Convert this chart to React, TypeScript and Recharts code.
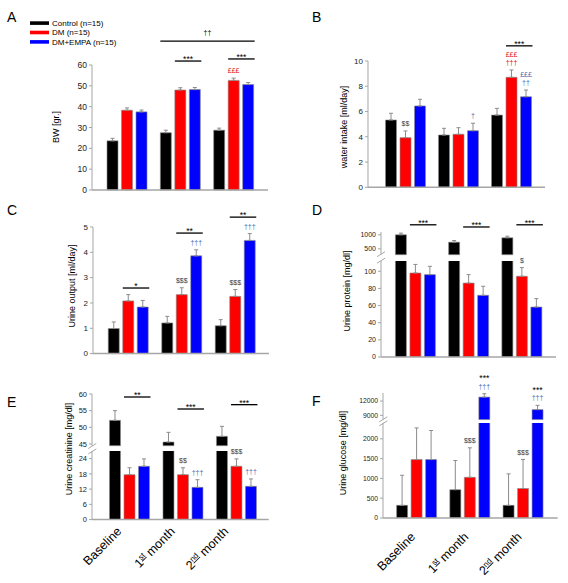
import React from 'react';
import { Bar, BarChart, ErrorBar, LabelList, XAxis, YAxis } from 'recharts';

const FONT = '"Liberation Sans", Arial, sans-serif';
const AXIS = '#a6a6a6';
const OUTLINE = '#8c8c8c';
const RED_TXT = '#e0161b';
const BLUE_TXT = '#4a6cb0';
const GREY_TXT = '#404040';

const GROUPS = ['Baseline', '1st month', '2nd month'];
const SERIES = ['ctrl', 'dm', 'empa'];
const SERIES_NAMES = ['Control (n=15)', 'DM (n=15)', 'DM+EMPA (n=15)'];
const SERIES_COLORS = ['#000000', '#ff0000', '#0000ff'];

const BAR = 11;
const BAR_GAP = 3.5;
const BAR_STEP = BAR + BAR_GAP;

// A: body weight [gr.]
const BW_CTRL = [23.6, 27.5, 28.7];
const BW_CTRL_ERR = [1.2, 1.2, 1.0];
const BW_DM = [38.3, 48.0, 52.6];
const BW_DM_ERR = [1.1, 1.1, 1.1];
const BW_EMPA = [37.5, 48.2, 50.6];
const BW_EMPA_ERR = [0.9, 1.0, 1.0];
const BW_TICKS = [0, 10, 20, 30, 40, 50, 60];

// B: water intake [ml/day]
const WI_CTRL = [5.33, 4.14, 5.72];
const WI_CTRL_ERR = [0.53, 0.53, 0.53];
const WI_DM = [3.93, 4.2, 8.71];
const WI_DM_ERR = [0.53, 0.52, 0.58];
const WI_EMPA = [6.44, 4.48, 7.17];
const WI_EMPA_ERR = [0.53, 0.59, 0.53];
const WI_TICKS = [0, 2, 4, 6, 8, 10];

// C: urine output [ml/day]
const UO_CTRL = [0.99, 1.21, 1.1];
const UO_CTRL_ERR = [0.26, 0.26, 0.24];
const UO_DM = [2.08, 2.33, 2.26];
const UO_DM_ERR = [0.25, 0.27, 0.27];
const UO_EMPA = [1.84, 3.86, 4.47];
const UO_EMPA_ERR = [0.26, 0.24, 0.27];
const UO_TICKS = [0, 1, 2, 3, 4, 5];

// D: urine protein [mg/dl]
const UP_CTRL = [1000, 736, 893];
const UP_CTRL_ERR = [60, 60, 57];
const UP_DM = [98, 86.3, 94.2];
const UP_DM_ERR = [10, 9.8, 10.1];
const UP_EMPA = [96.1, 72, 58.3];
const UP_EMPA_ERR = [9.7, 10.5, 9.8];
const UP_TICKS_HIGH = [500, 1000];
const UP_TICKS_LOW = [0, 20, 40, 60, 80, 100];

// E: urine creatinine [mg/dl]
const UC_CTRL = [52.1, 45.6, 47.3];
const UC_CTRL_ERR = [2.9, 2.9, 3.0];
const UC_DM = [17.7, 17.7, 21.0];
const UC_DM_ERR = [2.7, 2.7, 2.9];
const UC_EMPA = [21.0, 12.7, 13.1];
const UC_EMPA_ERR = [2.9, 3.0, 2.9];
const UC_TICKS_HIGH = [45, 50, 55, 60];
const UC_TICKS_LOW = [0, 6, 12, 18, 24];

// F: urine glucose [mg/dl]
const UG_CTRL = [320, 716, 320];
const UG_CTRL_ERR = [760, 735, 795];
const UG_DM = [1476, 1028, 745];
const UG_DM_ERR = [800, 745, 735];
const UG_EMPA = [1476, 12840, 10200];
const UG_EMPA_ERR = [735, 700, 900];
const UG_TICKS_HIGH = [9000, 12000];
const UG_TICKS_LOW = [0, 500, 1000, 1500, 2000];

type Sym = { kind: 'sym'; seg: number; g: number; s: number; lines: [string, string][] };
type Sig = { kind: 'sig'; seg: number; g: number; s0: number; g2: number; s1: number; v: number; text: string; lift?: number };
type Mark = Sym | Sig;
type Seg = { top: number; bottom: number; domain: [number, number]; ticks: number[] };
type Panel = {
  letter: string;
  letterPos: [number, number];
  title: string;
  titlePos: [number, number];
  values: number[][];
  errs: number[][];
  x0: number;
  x1: number;
  padL: number;
  padR: number;
  tickFont: number;
  segs: Seg[];
  marks: Mark[];
  xLabels?: { offX: number; offY: number };
};

const PANELS: Panel[] = [
  {
    letter: 'A', letterPos: [7, 22], title: 'BW [gr.]', titlePos: [56, 127],
    values: [BW_CTRL, BW_DM, BW_EMPA], errs: [BW_CTRL_ERR, BW_DM_ERR, BW_EMPA_ERR],
    x0: 92, x1: 268, padL: 8, padR: 8, tickFont: 8.5,
    segs: [{ top: 65, bottom: 190, domain: [0, 60], ticks: BW_TICKS }],
    marks: [
      { kind: 'sig', seg: 0, g: 1, s0: 1, g2: 1, s1: 2, v: 61.9, text: '***' },
      { kind: 'sig', seg: 0, g: 2, s0: 1, g2: 2, s1: 2, v: 62.9, text: '***' },
      { kind: 'sig', seg: 0, g: 1, s0: 0, g2: 2, s1: 2, v: 71.5, text: '††', lift: 8 },
      { kind: 'sym', seg: 0, g: 2, s: 1, lines: [['£££', RED_TXT]] },
    ],
  },
  {
    letter: 'B', letterPos: [312, 22], title: 'water intake [ml/day]', titlePos: [344, 127],
    values: [WI_CTRL, WI_DM, WI_EMPA], errs: [WI_CTRL_ERR, WI_DM_ERR, WI_EMPA_ERR],
    x0: 368, x1: 545, padL: 10.5, padR: 7.5, tickFont: 8,
    segs: [{ top: 61, bottom: 187.3, domain: [0, 10], ticks: WI_TICKS }],
    marks: [
      { kind: 'sig', seg: 0, g: 2, s0: 1, g2: 2, s1: 2, v: 11.2, text: '***' },
      { kind: 'sym', seg: 0, g: 0, s: 1, lines: [['$$', GREY_TXT]] },
      { kind: 'sym', seg: 0, g: 1, s: 2, lines: [['†', BLUE_TXT]] },
      { kind: 'sym', seg: 0, g: 2, s: 1, lines: [['†††', RED_TXT], ['£££', RED_TXT]] },
      { kind: 'sym', seg: 0, g: 2, s: 2, lines: [['††', BLUE_TXT], ['£££', BLUE_TXT]] },
    ],
  },
  {
    letter: 'C', letterPos: [7, 215], title: 'Urine output [ml/day]', titlePos: [72, 286],
    values: [UO_CTRL, UO_DM, UO_EMPA], errs: [UO_CTRL_ERR, UO_DM_ERR, UO_EMPA_ERR],
    x0: 93, x1: 269, padL: 8.25, padR: 7.25, tickFont: 8,
    segs: [{ top: 226.7, bottom: 353.3, domain: [0, 5], ticks: UO_TICKS }],
    marks: [
      { kind: 'sig', seg: 0, g: 0, s0: 1, g2: 0, s1: 2, v: 2.59, text: '*' },
      { kind: 'sig', seg: 0, g: 1, s0: 1, g2: 1, s1: 2, v: 4.76, text: '**' },
      { kind: 'sig', seg: 0, g: 2, s0: 1, g2: 2, s1: 2, v: 5.39, text: '**' },
      { kind: 'sym', seg: 0, g: 1, s: 1, lines: [['$$$', GREY_TXT]] },
      { kind: 'sym', seg: 0, g: 2, s: 1, lines: [['$$$', GREY_TXT]] },
      { kind: 'sym', seg: 0, g: 1, s: 2, lines: [['†††', BLUE_TXT]] },
      { kind: 'sym', seg: 0, g: 2, s: 2, lines: [['†††', BLUE_TXT]] },
    ],
  },
  {
    letter: 'D', letterPos: [312, 215], title: 'Urine protein [mg/dl]', titlePos: [346.5, 291],
    values: [UP_CTRL, UP_DM, UP_EMPA], errs: [UP_CTRL_ERR, UP_DM_ERR, UP_EMPA_ERR],
    x0: 381, x1: 556, padL: 7.4, padR: 7.9, tickFont: 7,
    segs: [
      { top: 231.5, bottom: 254.2, domain: [290, 1100], ticks: UP_TICKS_HIGH },
      { top: 260.7, bottom: 356.7, domain: [0, 112], ticks: UP_TICKS_LOW },
    ],
    marks: [
      { kind: 'sig', seg: 0, g: 0, s0: 1, g2: 0, s1: 2, v: 1357, text: '***' },
      { kind: 'sig', seg: 0, g: 1, s0: 1, g2: 1, s1: 2, v: 1279, text: '***' },
      { kind: 'sig', seg: 0, g: 2, s0: 1, g2: 2, s1: 2, v: 1357, text: '***' },
      { kind: 'sym', seg: 1, g: 2, s: 1, lines: [['$', GREY_TXT]] },
    ],
  },
  {
    letter: 'E', letterPos: [7, 407], title: 'Urine creatinine [mg/dl]', titlePos: [69, 449],
    values: [UC_CTRL, UC_DM, UC_EMPA], errs: [UC_CTRL_ERR, UC_DM_ERR, UC_EMPA_ERR],
    x0: 92.3, x1: 269, padL: 10.5, padR: 5.75, tickFont: 7.5,
    segs: [
      { top: 394.3, bottom: 446, domain: [44.5, 60], ticks: UC_TICKS_HIGH },
      { top: 451.4, bottom: 520, domain: [0, 27], ticks: UC_TICKS_LOW },
    ],
    marks: [
      { kind: 'sig', seg: 0, g: 0, s0: 1, g2: 0, s1: 2, v: 59.1, text: '**' },
      { kind: 'sig', seg: 0, g: 1, s0: 1, g2: 1, s1: 2, v: 55.5, text: '***' },
      { kind: 'sig', seg: 0, g: 2, s0: 1, g2: 2, s1: 2, v: 56.8, text: '***' },
      { kind: 'sym', seg: 1, g: 1, s: 1, lines: [['$$', GREY_TXT]] },
      { kind: 'sym', seg: 1, g: 1, s: 2, lines: [['†††', BLUE_TXT]] },
      { kind: 'sym', seg: 1, g: 2, s: 1, lines: [['$$$', GREY_TXT]] },
      { kind: 'sym', seg: 1, g: 2, s: 2, lines: [['†††', BLUE_TXT]] },
    ],
    xLabels: { offX: -7, offY: 12.6 },
  },
  {
    letter: 'F', letterPos: [312, 406], title: 'Urine glucose [mg/dl]', titlePos: [343, 453],
    values: [UG_CTRL, UG_DM, UG_EMPA], errs: [UG_CTRL_ERR, UG_DM_ERR, UG_EMPA_ERR],
    x0: 383.3, x1: 558, padL: 6.6, padR: 8.4, tickFont: 6.8,
    segs: [
      { top: 392.7, bottom: 419.3, domain: [8100, 13700], ticks: UG_TICKS_HIGH },
      { top: 423.3, bottom: 518.3, domain: [0, 2400], ticks: UG_TICKS_LOW },
    ],
    marks: [
      { kind: 'sym', seg: 0, g: 1, s: 2, lines: [['†††', BLUE_TXT], ['***', '#000000']] },
      { kind: 'sym', seg: 0, g: 2, s: 2, lines: [['†††', BLUE_TXT], ['***', '#000000']] },
      { kind: 'sym', seg: 1, g: 1, s: 1, lines: [['$$$', GREY_TXT]] },
      { kind: 'sym', seg: 1, g: 2, s: 1, lines: [['$$$', GREY_TXT]] },
    ],
    xLabels: { offX: -0.2, offY: 19.6 },
  },
];

const Y_W = 40;
const M_T = 48;
const M_R = 12;
const M_B = 8;

function MonthTick(props: any) {
  const { x, y, payload, offX, offY } = props;
  const ax = x + offX;
  const ay = y + offY;
  const label: string = String(payload.value);
  const m = label.match(/^(\d)(st|nd|rd|th) (.*)$/);
  return (
    <text
      x={ax}
      y={ay}
      transform={`rotate(-45 ${ax} ${ay})`}
      textAnchor="end"
      fontSize={12.5}
      fontFamily={FONT}
      fill="#000"
      style={{ whiteSpace: 'pre' }}
    >
      {m ? (
        <>
          <tspan>{m[1]}</tspan>
          <tspan fontSize={8} dy={-4.5} textDecoration="underline">{m[2]}</tspan>
          <tspan dy={4.5}>{' ' + m[3]}</tspan>
        </>
      ) : (
        label
      )}
    </text>
  );
}

function baselineFor(text: string, center: number) {
  const star = text.includes('*');
  const fs = star ? 8.5 : 7;
  return { fs, y: center + (star ? 0.55 : 0.3) * fs };
}

function ChartSegment({ panel, segIndex }: { panel: Panel; segIndex: number }) {
  const seg = panel.segs[segIndex];
  const broken = panel.segs.length > 1;
  const part = !broken ? 'all' : segIndex === 0 ? 'upper' : 'lower';
  const split = broken ? panel.segs[1].domain[1] : Infinity;
  const showX = part !== 'upper';
  const axisH = panel.xLabels && showX ? 80 : showX ? 2 : 0;
  const width = Y_W + (panel.x1 - panel.x0) + M_R;
  const height = M_T + (seg.bottom - seg.top) + axisH + M_B;
  const step = (panel.x1 - panel.x0 - panel.padL - panel.padR) / GROUPS.length;
  const base = seg.domain[0];

  const rows = GROUPS.map((name, g) => {
    const row: Record<string, unknown> = { name };
    SERIES.forEach((key, s) => {
      const v = panel.values[s][g];
      const e = panel.errs[s][g];
      const over = v > split;
      if (part === 'upper') {
        row[key] = over ? v : null;
        row[key + 'Err'] = over ? [0, e] : null;
      } else {
        row[key] = v;
        row[key + 'Err'] = over ? null : [0, e];
      }
    });
    return row;
  });

  const markLayer = (s: number) => (props: any) => {
    const vb = props.viewBox ?? props;
    const value = props.value;
    if (value == null || vb == null) return null;
    const { x, y, width: w, height: h } = vb;
    if ([x, y, w, h].some((n) => typeof n !== 'number' || !isFinite(n))) return null;
    // group from the bar's own band (label indexes skip empty bars)
    const g = Math.floor((x - Y_W - panel.padL) / step);
    const bottom = y + h;
    const k = h / (Number(value) - base);
    const py = (v: number) => bottom - (v - base) * k;
    const items: React.ReactNode[] = [];
    panel.marks.forEach((m, i) => {
      if (m.seg !== segIndex || m.g !== g) return;
      if (m.kind === 'sym' && m.s === s) {
        const errTop = py(Number(value) + panel.errs[s][g]);
        let center = errTop - 7;
        m.lines.forEach(([t, c], li) => {
          if (li > 0) center -= t.includes('*') ? 10.5 : 8;
          const b = baselineFor(t, center);
          items.push(
            <text key={`${i}-${li}`} x={x + w / 2} y={b.y} textAnchor="middle" fontSize={b.fs} fill={c} fontFamily={FONT}>
              {t}
            </text>,
          );
        });
      }
      if (m.kind === 'sig' && s === 0) {
        const ly = py(m.v);
        const xa = x + m.s0 * BAR_STEP;
        const xb = x + (m.g2 - m.g) * step + m.s1 * BAR_STEP + BAR + 1;
        const b = baselineFor(m.text, ly - (m.lift ?? 3.5));
        items.push(<line key={`${i}-l`} x1={xa} x2={xb} y1={ly} y2={ly} stroke="#000" strokeWidth={1.3} />);
        items.push(
          <text key={`${i}-t`} x={(xa + xb) / 2} y={b.y} textAnchor="middle" fontSize={b.fs} fill="#000" fontFamily={FONT}>
            {m.text}
          </text>,
        );
      }
    });
    return <g>{items}</g>;
  };

  return (
    <div style={{ position: 'absolute', left: panel.x0 - Y_W, top: seg.top - M_T }}>
      <BarChart
        width={width}
        height={height}
        data={rows}
        margin={{ top: M_T, right: M_R, bottom: M_B, left: 0 }}
        barGap={BAR_GAP}
      >
        <XAxis
          dataKey="name"
          type="category"
          hide={!showX}
          height={axisH}
          padding={{ left: panel.padL, right: panel.padR }}
          axisLine={{ stroke: AXIS, strokeWidth: 1.5 }}
          tickLine={false}
          tickSize={0}
          tickMargin={0}
          interval={0}
          tick={
            panel.xLabels
              ? (p: any) => <MonthTick {...p} offX={panel.xLabels!.offX} offY={panel.xLabels!.offY} />
              : false
          }
        />
        <YAxis
          type="number"
          width={Y_W}
          domain={seg.domain}
          ticks={seg.ticks}
          interval={0}
          allowDataOverflow={part === 'lower'}
          tickSize={3}
          tickMargin={2}
          axisLine={{ stroke: AXIS }}
          tickLine={{ stroke: AXIS }}
          tick={{ fontSize: panel.tickFont, fill: '#222', fontFamily: FONT }}
        />
        {SERIES.map((key, s) => (
          <Bar
            key={key}
            dataKey={key}
            fill={SERIES_COLORS[s]}
            stroke={OUTLINE}
            strokeWidth={0.6}
            barSize={BAR}
            isAnimationActive={false}
          >
            <ErrorBar dataKey={key + 'Err'} width={2} stroke={OUTLINE} strokeWidth={1} direction="y" isAnimationActive={false} />
            <LabelList dataKey={key} content={markLayer(s)} />
          </Bar>
        ))}
      </BarChart>
    </div>
  );
}

export default function App() {
  return (
    <div
      style={{
        position: 'absolute',
        left: 0,
        top: 0,
        width: 568,
        height: 583,
        background: '#fff',
        overflow: 'hidden',
        fontFamily: FONT,
      }}
    >
      {PANELS.map((p) => p.segs.map((_, i) => <ChartSegment key={`${p.letter}-${i}`} panel={p} segIndex={i} />))}
      <svg width={568} height={583} style={{ position: 'absolute', left: 0, top: 0, pointerEvents: 'none' }}>
        {PANELS.map((p) => (
          <g key={p.letter}>
            <text x={p.letterPos[0]} y={p.letterPos[1]} fontSize={14} fontFamily={FONT} fill="#000">
              {p.letter}
            </text>
            <text
              x={p.titlePos[0]}
              y={p.titlePos[1]}
              transform={`rotate(-90 ${p.titlePos[0]} ${p.titlePos[1]})`}
              textAnchor="middle"
              dominantBaseline="central"
              fontSize={9}
              fontFamily={FONT}
              fill="#000"
            >
              {p.title}
            </text>
            {p.segs.length > 1 &&
              [p.segs[0].bottom, p.segs[1].top].map((yy, j) => (
                <line key={j} x1={p.x0 - 4} y1={yy + 2.5} x2={p.x0 + 4} y2={yy - 2.5} stroke={AXIS} strokeWidth={1} />
              ))}
          </g>
        ))}
        {SERIES_NAMES.map((name, i) => (
          <g key={name}>
            <rect x={30} y={21.3 + i * 9.4} width={19} height={3.6} fill={SERIES_COLORS[i]} />
            <text x={52} y={26 + i * 9.4} fontSize={8} fontFamily={FONT} fill="#000">
              {name}
            </text>
          </g>
        ))}
      </svg>
    </div>
  );
}
